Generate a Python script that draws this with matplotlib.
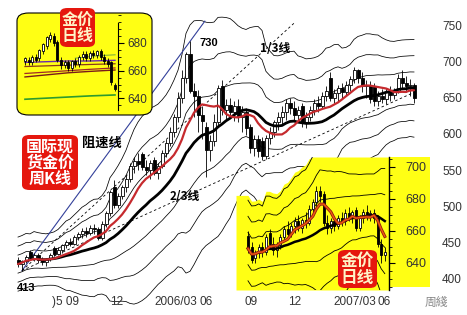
import numpy as np
import pandas as pd
import matplotlib
matplotlib.use("Agg")
import matplotlib.pyplot as plt
from matplotlib.patches import FancyBboxPatch, Rectangle
from matplotlib.transforms import blended_transform_factory
from matplotlib.ticker import MultipleLocator

# ---------------- weekly gold (main chart) ----------------
wk_open = [428, 422, 426, 439, 430, 435, 427, 425, 429, 444,
           436, 441, 448, 453, 450, 459, 463, 468, 465, 472,
           470, 458, 478, 492, 528, 504, 516, 528, 540, 558,
           564, 574, 556, 552, 566, 548, 558, 575, 590, 605,
           625, 652, 680, 712, 662, 655, 628, 612, 580, 592,
           618, 668, 635, 642, 632, 640, 625, 632, 612, 582,
           595, 592, 572, 596, 605, 618, 625, 633, 645, 638,
           628, 640, 618, 626, 635, 645, 640, 655, 680, 652,
           658, 665, 660, 670, 678, 690, 680, 668, 670, 668,
           648, 655, 650, 660, 656, 662, 680, 672, 668, 670]
wk_high = [432, 428, 434, 441, 437, 438, 432, 431, 437, 447,
           445, 450, 456, 458, 462, 466, 472, 474, 476, 478,
           473, 482, 496, 525, 538, 520, 532, 545, 562, 570,
           575, 577, 566, 566, 570, 562, 580, 595, 612, 630,
           660, 690, 715, 730, 672, 663, 640, 618, 600, 630,
           670, 677, 650, 652, 648, 650, 640, 638, 616, 600,
           600, 598, 600, 612, 622, 632, 640, 650, 652, 648,
           640, 645, 632, 640, 650, 655, 660, 668, 688, 664,
           670, 672, 675, 682, 695, 692, 688, 676, 675, 672,
           662, 664, 665, 668, 666, 685, 690, 682, 678, 672]
wk_low = [418, 413, 423, 428, 426, 424, 421, 420, 426, 433,
          434, 438, 444, 447, 448, 455, 458, 460, 462, 464,
          455, 456, 474, 488, 500, 500, 512, 522, 536, 548,
          552, 552, 545, 540, 545, 540, 555, 570, 585, 598,
          618, 645, 672, 658, 625, 605, 595, 543, 565, 585,
          612, 628, 622, 625, 620, 618, 605, 600, 575, 572,
          570, 566, 568, 588, 598, 608, 615, 622, 630, 622,
          618, 612, 610, 620, 628, 632, 636, 648, 648, 645,
          648, 652, 655, 662, 672, 672, 660, 652, 645, 640,
          640, 645, 643, 648, 650, 658, 665, 660, 655, 645]
wk_close = [422, 426, 432, 430, 435, 427, 425, 429, 434, 436,
            441, 448, 453, 450, 459, 463, 468, 465, 472, 470,
            458, 478, 492, 522, 504, 516, 528, 540, 558, 564,
            560, 556, 552, 562, 548, 558, 575, 590, 605, 625,
            652, 680, 712, 662, 655, 628, 620, 580, 592, 618,
            665, 635, 642, 632, 640, 625, 632, 610, 582, 595,
            578, 572, 596, 605, 618, 625, 633, 645, 638, 628,
            635, 618, 626, 635, 645, 640, 655, 662, 652, 658,
            665, 660, 670, 678, 690, 680, 668, 670, 650, 648,
            655, 650, 660, 656, 662, 680, 672, 668, 670, 652]
main_yticks = [750, 700, 650, 600, 550, 500, 450, 400]
x_labels = [")5 09", "12", "2006/03", "06", "09", "12", "2007/03", "06"]
x_label_px = [52, 110, 154, 199, 245, 288, 333, 377]

# ---------------- daily gold (bottom-right inset) ----------------
d_open = [657, 650, 643, 646, 650, 647, 659, 652, 648, 651,
          656, 661, 658, 663, 666, 662, 667, 665, 674, 678,
          685, 683, 665, 662, 666, 663, 668, 666, 671, 669,
          673, 662, 668, 672, 670, 671, 668, 652, 645]
d_high = [660, 653, 648, 652, 653, 658, 661, 656, 653, 658,
          663, 666, 665, 669, 670, 668, 672, 676, 680, 688,
          688, 685, 670, 668, 669, 670, 672, 674, 675, 673,
          675, 670, 674, 676, 673, 674, 670, 655, 650]
d_low = [646, 640, 640, 643, 644, 645, 650, 645, 644, 649,
         654, 655, 656, 659, 660, 659, 662, 664, 670, 675,
         678, 663, 658, 659, 660, 661, 663, 664, 666, 665,
         660, 660, 665, 667, 666, 665, 650, 640, 641]
d_close = [649, 642, 646, 650, 647, 656, 652, 648, 651, 656,
           661, 658, 663, 666, 662, 667, 665, 674, 678, 685,
           682, 665, 662, 666, 663, 668, 666, 671, 669, 672,
           662, 668, 672, 670, 671, 668, 652, 645, 647]
br_yticks = [640, 660, 680, 700]

# ---------------- daily gold (top-left inset) ----------------
t_open = [667, 668, 666, 670, 669, 674, 678, 683, 685, 681,
          668, 664, 666, 662, 667, 665, 670, 672, 669, 673,
          671, 674, 670, 667, 666, 650]
t_high = [670, 670, 671, 672, 676, 680, 685, 688, 687, 682,
          670, 668, 668, 668, 669, 671, 674, 674, 674, 675,
          675, 676, 672, 669, 667, 651]
t_low = [664, 664, 664, 666, 667, 672, 676, 681, 678, 666,
         661, 662, 660, 660, 663, 663, 668, 667, 667, 669,
         669, 668, 665, 663, 650, 645]
t_close = [669, 666, 670, 668, 675, 679, 684, 686, 680, 668,
           664, 666, 662, 667, 665, 670, 672, 669, 673, 671,
           674, 670, 667, 665, 652, 647]
tl_line_x = [0, 6, 12, 18, 25]
tl_purple = [666.0, 666.5, 667.0, 667.0, 667.5]
tl_brown = [663.0, 663.5, 664.0, 664.5, 665.0]
tl_darkred1 = [655.5, 657.0, 658.5, 659.5, 660.5]
tl_darkred2 = [658.0, 659.0, 660.0, 661.0, 662.0]
tl_olive_x = [14, 19, 25]
tl_olive = [669.0, 670.5, 671.5]
tl_green = [639.4, 640.2, 641.0, 641.8, 642.5]
tl_yticks = [640, 660, 680]

CJK = ['Noto Sans CJK SC', 'DejaVu Sans']
NUM = ['Liberation Sans', 'DejaVu Sans']
YEL = '#FFFF14'
RED = '#E5170E'

W, H = 467, 315
fig = plt.figure(figsize=(W / 100, H / 100), dpi=100)
fig.patch.set_facecolor('white')


def fx(p):
    return p / W


def fy(p):
    return 1 - p / H


def candles(a, x, o, h, l, c, width, lw, z):
    o, h, l, c = map(np.asarray, (o, h, l, c))
    up = c >= o
    a.vlines(x, l, h, color='black', lw=lw, zorder=z)
    a.bar(x[up], (c - o)[up], width, bottom=o[up], facecolor='white',
          edgecolor='black', lw=lw, zorder=z + 0.1)
    a.bar(x[~up], (o - c)[~up], width, bottom=c[~up], facecolor='black',
          edgecolor='black', lw=lw, zorder=z + 0.1)


# ---------------- main axes ----------------
ax = fig.add_axes([0, 0, 1, 1], zorder=0)
ax.set_xlim(-4.5, 112.25)
ax.set_ylim(351.6, 787.3)
ax.set_axis_off()

xw = np.arange(len(wk_close))
s = pd.Series(wk_close, dtype=float)
ma10 = s.rolling(10, min_periods=1).mean()
ma20 = s.rolling(20, min_periods=1).mean()
ma20_line = s.rolling(20, min_periods=6).mean()
sd20 = s.rolling(20, min_periods=3).std().bfill()
for k in (1, 2, 3):
    w = k * (0.02 * ma20 + 0.8 * sd20)
    ax.plot(xw, ma20 + w, color='black', lw=0.55, zorder=1)
    ax.plot(xw, ma20 - w, color='black', lw=0.55, zorder=1)

# speed resistance lines
lows = np.asarray(wk_low, float)
highs = np.asarray(wk_high, float)
i_lo, i_hi = int(np.argmin(lows)), int(np.argmax(highs))
lo, hi = lows[i_lo], highs[i_hi]
slope_full = (hi - lo) / (i_hi - i_lo)
x_end = i_lo + (758 - lo) / slope_full
ax.plot([i_lo, x_end], [lo, 758], color='#33409A', lw=0.8, zorder=1)
slope13 = (hi - (hi - lo) / 3 - lo) / (i_hi - i_lo)
x_end13 = i_lo + (755 - lo) / slope13
ax.plot([i_lo, x_end13], [lo, 755], color='black', lw=0.6,
        ls=(0, (3, 3)), zorder=1)
slope23 = (hi - 2 * (hi - lo) / 3 - lo) / (i_hi - i_lo)
ax.plot([i_lo, xw[-1]], [lo, lo + slope23 * (xw[-1] - i_lo)], color='black',
        lw=0.6, ls=(0, (3, 3)), zorder=1)

candles(ax, xw, wk_open, wk_high, wk_low, wk_close, 0.75, 0.6, 2)
ax.plot(xw, ma20_line, color='black', lw=2.0, zorder=3, solid_capstyle='round')
ax.plot(xw, ma10, color='#C62A2E', lw=1.6, zorder=3.5, solid_capstyle='round')

trans = blended_transform_factory(fig.transFigure, ax.transData)
for v in main_yticks:
    ax.text(fx(452), v, str(v), transform=trans, ha='center', va='center',
            fontsize=8.5, color='#333333', family=NUM)
for lab, px in zip(x_labels, x_label_px):
    fig.text(fx(px), fy(302), lab, ha='left', va='center', fontsize=8.5,
             color='#333333', family=NUM)
fig.text(fx(425), fy(302), '周綫', ha='left', va='center', fontsize=8.5,
         color='#8a8a8a', family=CJK)

fig.text(fx(209), fy(43), '730', ha='center', va='center', fontsize=8,
         fontweight='bold', family=NUM)
fig.text(fx(26), fy(288), '413', ha='center', va='center', fontsize=8,
         fontweight='bold', family=NUM)
fig.text(fx(275), fy(48), '1/3线', ha='center', va='center', fontsize=8.5,
         fontweight='bold', family=CJK)
fig.text(fx(185), fy(196), '2/3线', ha='center', va='center', fontsize=8.5,
         fontweight='bold', family=CJK)
fig.text(fx(102), fy(143), '阻速线', ha='center', va='center', fontsize=9.5,
         fontweight='bold', family=CJK)


def badge(x0, y0, x1, y1, text, tcolor, fs, ls=1.0):
    p = FancyBboxPatch((fx(x0), fy(y1)), (x1 - x0) / W, (y1 - y0) / H,
                       boxstyle="round,pad=0,rounding_size=0.016",
                       transform=fig.transFigure, facecolor=RED,
                       edgecolor='none', zorder=5)
    fig.add_artist(p)
    fig.text(fx((x0 + x1) / 2), fy((y0 + y1) / 2 + 0.5), text, ha='center',
             va='center', color=tcolor, fontsize=fs, fontweight='bold',
             family=CJK, linespacing=ls, zorder=6)


# ---------------- top-left inset ----------------
box = FancyBboxPatch((fx(17), fy(115)), 135 / W, 102 / H,
                     boxstyle="round,pad=0,rounding_size=0.025",
                     transform=fig.transFigure, facecolor=YEL,
                     edgecolor='black', lw=0.8, zorder=2)
fig.add_artist(box)
ax1 = fig.add_axes([fx(22), fy(112), 96 / W, 97 / H], zorder=3)
ax1.patch.set_alpha(0)
ax1.set_xlim(-0.83, 25.83)
ax1.set_ylim(630.2, 700.2)
for sp in ('left', 'top', 'bottom'):
    ax1.spines[sp].set_visible(False)
ax1.spines['right'].set_bounds(631.6, 694.4)
ax1.spines['right'].set_linewidth(0.8)
ax1.set_xticks([])
ax1.yaxis.tick_right()
ax1.set_yticks(tl_yticks)
ax1.yaxis.set_minor_locator(MultipleLocator(5))
ax1.tick_params(axis='y', which='major', length=4, width=0.8, pad=2.5,
                labelsize=8.5, labelcolor='#333333')
ax1.tick_params(axis='y', which='minor', length=2, width=0.6)
for t in ax1.get_yticklabels():
    t.set_family(NUM)
xt = np.arange(len(t_close))
ax1.plot(tl_line_x, tl_green, color='#2E9B2E', lw=1.2, zorder=1)
ax1.plot(tl_line_x, tl_darkred1, color='#7A1A1A', lw=1.0, zorder=1)
ax1.plot(tl_line_x, tl_darkred2, color='#A02828', lw=0.9, zorder=1)
ax1.plot(tl_line_x, tl_brown, color='#8B3A1A', lw=0.9, zorder=1)
ax1.plot(tl_line_x, tl_purple, color='#6A2AB0', lw=1.0, zorder=1)
ax1.plot(tl_olive_x, tl_olive, color='#8DB83A', lw=0.9, zorder=1)
candles(ax1, xt, t_open, t_high, t_low, t_close, 0.6, 0.6, 2)
badge(60, 8, 95, 47, '金价\n日线', '#FFF3C8', 11.5, 0.95)

# ---------------- bottom-right inset ----------------
strip = Rectangle((fx(389), fy(287)), 41 / W, 130 / H,
                  transform=fig.transFigure, facecolor=YEL,
                  edgecolor='none', zorder=2)
fig.add_artist(strip)
ax2 = fig.add_axes([fx(236), fy(290), 153 / W, 133 / H], zorder=3)
ax2.patch.set_alpha(0)
ax2.set_xlim(-3.33, 39.17)
ax2.set_ylim(623.1, 706.25)
for sp in ('left', 'top', 'bottom'):
    ax2.spines[sp].set_visible(False)
ax2.spines['right'].set_linewidth(1.0)
ax2.set_xticks([])
ax2.yaxis.tick_right()
ax2.set_yticks(br_yticks)
ax2.yaxis.set_minor_locator(MultipleLocator(5))
ax2.tick_params(axis='y', which='major', length=4, width=0.8, pad=8,
                labelsize=9, labelcolor='#333333')
ax2.tick_params(axis='y', which='minor', length=2, width=0.6)
for t in ax2.get_yticklabels():
    t.set_family(NUM)

xd = np.arange(len(d_close))
sd = pd.Series(d_close, dtype=float)
dma5 = sd.rolling(5, min_periods=1).mean()
dma20 = sd.rolling(20, min_periods=1).mean()
dsd = sd.rolling(20, min_periods=4).std().bfill()
top3 = dma20 + 3 * (0.01 * dma20 + dsd)
xx = np.r_[-3.33, xd, 39.17]
yy = np.r_[top3.iloc[0], top3.values, top3.iloc[-1]] + 3
ax2.fill_between(xx, 623.1, np.minimum(yy, 706.25), color=YEL, lw=0, zorder=0)
for k in (1, 2, 3):
    w = k * (0.01 * dma20 + dsd)
    ax2.plot(xd, dma20 + w, color='black', lw=0.6, zorder=1)
    ax2.plot(xd, dma20 - w, color='black', lw=0.6, zorder=1)
candles(ax2, xd, d_open, d_high, d_low, d_close, 0.6, 0.6, 2)
ax2.plot(xd, dma20, color='black', lw=1.8, zorder=3)
ax2.plot(xd, dma5, color='#8E1A10', lw=2.2, zorder=3.4)
ax2.plot(xd, dma5, color='#F05A10', lw=1.0, zorder=3.5)
badge(338, 250, 377, 288, '金价\n日线', '#FFF3C8', 12, 0.95)

# ---------------- big badge ----------------
badge(22, 135, 78, 190, '国际现\n货金价\n周K线', 'white', 11.5, 1.0)

fig.savefig('out.png', dpi=100)
